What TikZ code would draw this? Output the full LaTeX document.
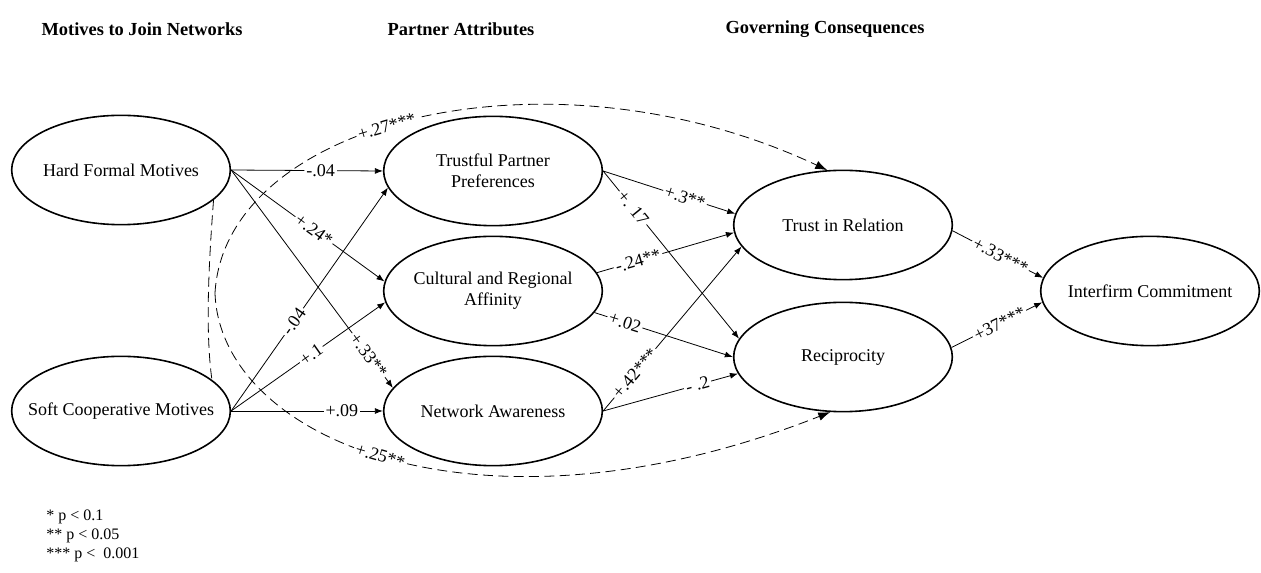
\documentclass[tikz,border=0pt]{standalone}
\usepackage{fontspec}
\setmainfont{Liberation Serif}
\usetikzlibrary{shapes.geometric,arrows.meta}

\begin{document}
\begin{tikzpicture}[x=0.75pt, y=-0.75pt, line width=0.6pt,
  var/.style={ellipse, draw, line width=1.2pt, minimum width=164pt, minimum height=82pt, inner xsep=-25pt, inner ysep=0pt, align=center, font=\fontsize{13.5}{15.75}\selectfont},
  path/.style={-{Latex[length=6pt,width=4.5pt]}},
  corr/.style={dash pattern=on 7.5pt off 4pt},
  coef/.style={sloped, fill=white, inner sep=1.5pt, font=\fontsize{13.5}{15}\selectfont},
  head/.style={font=\fontsize{13.8}{16}\selectfont\bfseries}]
\useasboundingbox (0,0) rectangle (1261,573);
\node[head] (H1) at (142,29) {Motives to Join Networks};
\node[head] (H2) at (461,29) {Partner Attributes};
\node[head] (H3) at (825,29) {Governing Consequences};
\node[var] (HFM) at (121,170) {Hard Formal Motives};
\node[var] (SCM) at (121,411) {Soft Cooperative Motives};
\node[var] (TPP) at (493,171) {Trustful Partner\\Preferences};
\node[var] (CRA) at (493,291) {Cultural and Regional\\Affinity};
\node[var] (NA) at (493,411) {Network Awareness};
\node[var] (TR) at (843,225) {Trust in Relation};
\node[var] (R) at (843,357) {Reciprocity};
\node[var] (IC) at (1150,291) {Interfirm Commitment};
\node[align=left, anchor=north west, inner sep=0pt, font=\fontsize{12}{14.25}\selectfont] (L) at (46,509) {* p < 0.1\\** p < 0.05\\*** p <\ \ 0.001};
\coordinate (S) at (215,293);
\draw[corr] (HFM.-18) .. controls (209,260) and (205,330) .. (SCM.19);
\draw[corr, -{Latex[length=9pt,width=6.5pt]}] (S) .. controls (225,120) and (550,40) .. (TR.106) node[coef, pos=0.45] {+.27***};
\draw[corr, -{Latex[length=9pt,width=6.5pt]}] (S) .. controls (220,440) and (480,550) .. (R.257) node[coef, pos=0.48] {+.25**};
\draw[path] (HFM.east) -- node[coef, pos=0.59] {-.04} (TPP.west);
\draw[path] (HFM.east) -- node[coef, pos=0.54] {+.24*} (CRA.175);
\draw[path] (HFM.east) -- node[coef, pos=0.85] {+.33**} (NA.167);
\draw[path] (SCM.east) -- node[coef, pos=0.4] {-.04} (TPP.189);
\draw[path] (SCM.east) -- node[coef, pos=0.52] {+.1} (CRA.186);
\draw[path] (SCM.east) -- node[coef, pos=0.73] {+.09} (NA.west);
\draw[path] (TPP.east) -- node[coef, pos=0.62] {+.3**} (TR.174);
\draw[path] (TPP.east) -- node[coef, pos=0.22] {+. 17} (R.170);
\draw[path] (CRA.10) -- node[coef, pos=0.3] {-.24**} (TR.184);
\draw[path] (CRA.-12) -- node[coef, pos=0.22] {+.02} (R.west);
\draw[path] (NA.east) -- node[coef, pos=0.23] {+.42***} (TR.192);
\draw[path] (NA.east) -- node[coef, pos=0.7] {- .2} (R.189);
\draw[path] (TR.-3) -- node[coef, pos=0.53] {+.33***} (IC.173);
\draw[path] (R.5) -- node[coef, pos=0.53] {+37***} (IC.186);
\end{tikzpicture}
\end{document}
